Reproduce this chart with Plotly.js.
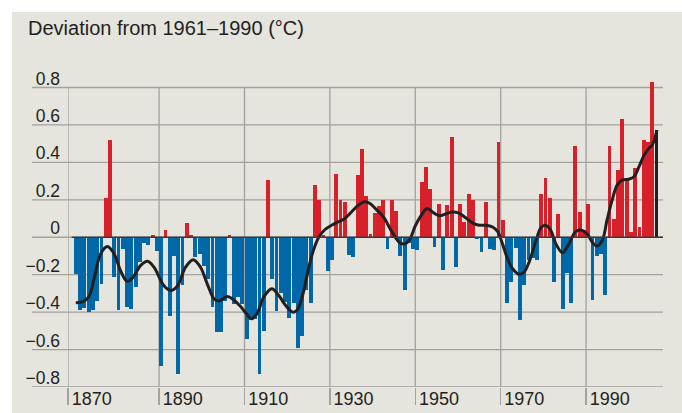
<!DOCTYPE html>
<html><head><meta charset="utf-8">
<script src="https://cdn.plot.ly/plotly-3.0.1.min.js"></script>
<style>
html,body{margin:0;padding:0;background:#ffffff;}
#chart{position:absolute;left:12px;top:12px;width:670px;height:401px;}
</style></head><body><div id="chart"></div>
<script>
// Annual deviation from the 1961–1990 mean (°C), 1870 onward
const firstYear = 1870;
const anomalies = [
 -0.195,-0.39,-0.38,-0.40,-0.39,-0.34,-0.25,0.21,0.52,-0.21,      // 1870-1879
 -0.39,-0.065,-0.37,-0.385,-0.265,-0.13,-0.03,-0.04,0.01,-0.075,   // 1880-1889
 -0.69,0.04,-0.42,-0.10,-0.73,-0.255,0.075,0.01,-0.105,-0.09,      // 1890-1899
 -0.155,-0.225,-0.37,-0.505,-0.505,-0.34,0.01,-0.355,-0.32,-0.355, // 1900-1909
 -0.545,-0.44,-0.435,-0.73,-0.50,0.305,-0.225,-0.395,-0.30,-0.345, // 1910-1919
 -0.43,-0.35,-0.59,-0.525,-0.28,-0.35,0.28,0.20,0.01,-0.18,        // 1920-1929
 -0.12,0.34,0.20,0.19,-0.095,-0.105,0.33,0.47,0.22,0.02,           // 1930-1939
 0.13,0.165,0.20,-0.065,0.20,0.14,-0.10,-0.28,-0.03,-0.065,        // 1940-1949
 -0.07,0.295,0.375,0.257,-0.052,0.18,-0.175,0.17,0.536,-0.16,      // 1950-1959
 0.177,0.08,0.23,0.20,-0.012,-0.08,0.19,-0.065,-0.07,0.51,         // 1960-1969
 0.09,-0.35,-0.24,-0.06,-0.44,-0.255,-0.12,-0.11,-0.12,0.23,       // 1970-1979
 0.316,0.21,-0.24,0.122,-0.385,-0.19,-0.35,0.49,0.134,0.04,        // 1980-1989
 0.18,-0.335,-0.10,-0.09,-0.31,0.49,0.10,0.36,0.63,0.305,          // 1990-1999
 0.03,0.37,0.053,0.52,0.51,0.83,0.573                              // 2000-2006
];
const years = anomalies.map((_, i) => firstYear + i);

// Smoothed curve
const smoothYears = [1870,1871.5,1873,1874.3,1875.8,1877.4,1879,1880.5,1882,1883.2,1885.2,1886.8,1888.3,1890.6,1892.2,1893.8,1895.7,1897.5,1899.2,1900.8,1902.4,1903.5,1905.5,1907,1908.6,1910,1911.1,1912.4,1914,1915.9,1917.5,1919,1920.8,1921.8,1923,1924.2,1925.5,1926.9,1928.3,1929.9,1931.4,1933,1934.6,1936.1,1937.7,1938.9,1940.5,1942,1943.6,1944.8,1945.9,1947,1948.3,1949.4,1950.7,1952.3,1953.8,1955.2,1956.7,1958.2,1959.6,1961.3,1962.9,1964.5,1966,1967.6,1968.8,1969.9,1971.1,1972.3,1973.9,1975,1976.2,1977.8,1978.9,1980,1981.2,1982.4,1984,1985.5,1987,1988.2,1989.8,1990.9,1992,1993.3,1994.4,1995.6,1996.8,1998,1999.5,2000.7,2001.9,2003,2004.2,2005,2006.1];
const smoothValues = [-0.35,-0.345,-0.32,-0.22,-0.09,-0.05,-0.09,-0.18,-0.235,-0.22,-0.15,-0.128,-0.16,-0.258,-0.284,-0.26,-0.16,-0.12,-0.16,-0.25,-0.33,-0.34,-0.316,-0.335,-0.37,-0.41,-0.435,-0.41,-0.32,-0.275,-0.31,-0.36,-0.40,-0.39,-0.32,-0.20,-0.08,0.0,0.04,0.064,0.082,0.10,0.136,0.17,0.19,0.18,0.145,0.11,0.046,0.0,-0.03,-0.036,-0.007,0.055,0.11,0.153,0.13,0.115,0.125,0.135,0.13,0.104,0.077,0.064,0.064,0.055,0.03,-0.034,-0.114,-0.168,-0.198,-0.186,-0.13,-0.016,0.05,0.064,0.038,-0.034,-0.083,-0.034,0.029,0.039,0.016,-0.025,-0.047,-0.016,0.091,0.198,0.28,0.305,0.31,0.323,0.377,0.434,0.475,0.493,0.573];

const xTickYears  = [1870, 1890, 1910, 1930, 1950, 1970, 1990];
const xTickLabels = ['1870','1890','1910','1930','1950','1970','1990'];
const yTickValues = [-0.8,-0.6,-0.4,-0.2,0,0.2,0.4,0.6,0.8];
const yTickLabels = ['\u22120.8','\u22120.6','\u22120.4','\u22120.2','0','0.2','0.4','0.6','0.8'];
const titleText = 'Deviation from 1961\u20131990 (\u00b0C)';

const RED = '#d8202a', BLUE = '#0067a8', BLACK = '#231f20';
const GRID = '#a2a2a0', BG = '#e5e4dd';
const FONT = 'Liberation Sans, Arial, Helvetica, sans-serif';

const plotW = 595, pxPerYear = 4.27;
const xMin = 1868.17, xMax = xMin + plotW / pxPerYear;
const yLow = yTickValues[0], yHigh = yTickValues[yTickValues.length - 1];

const barColors = anomalies.map((v, i) => i === anomalies.length - 1 ? BLACK : (v >= 0 ? RED : BLUE));
const xTickPos = xTickYears.map((y, i) => i === 0 ? xMin : y - 0.5);

// horizontal grid lines (extend left under the labels)
const shapes = yTickValues.map(t => ({
  type: 'line', xref: 'paper', yref: 'y', x0: -36 / plotW, x1: 1, y0: t, y1: t,
  line: {color: GRID, width: 1.3}, layer: 'below'
}));
// vertical grid lines, from the bottom to the top grid line
xTickPos.forEach(p => shapes.push({
  type: 'line', xref: 'x', yref: 'y', x0: p, x1: p, y0: yLow, y1: yHigh,
  line: {color: GRID, width: 1.3}, layer: 'below'
}));
// dark zero line
shapes.push({type: 'line', xref: 'x', yref: 'y', x0: years[0] - 0.95, x1: xMax, y0: 0, y1: 0,
  line: {color: '#3a3a3a', width: 1.6}, layer: 'above'});

const data = [
  {type: 'bar', x: years, y: anomalies, width: 0.9, marker: {color: barColors, line: {width: 0}},
   hoverinfo: 'x+y'},
  {type: 'scatter', mode: 'lines', x: smoothYears, y: smoothValues,
   line: {color: BLACK, width: 3, shape: 'spline', smoothing: 1}, hoverinfo: 'skip'}
];

const layout = {
  width: 670, height: 401,
  margin: {l: 56, r: 19, t: 67.5, b: 26, pad: 0},
  paper_bgcolor: BG, plot_bgcolor: 'rgba(0,0,0,0)',
  showlegend: false,
  font: {family: FONT, color: BLACK},
  title: {text: titleText, xref: 'container', x: 16 / 670, xanchor: 'left',
          yref: 'container', y: 1 - 16 / 401, yanchor: 'middle',
          font: {family: FONT, size: 20, color: BLACK}},
  xaxis: {range: [xMin, xMax], tickmode: 'array', tickvals: xTickPos, ticktext: xTickLabels,
          showgrid: false, zeroline: false, showline: false,
          ticks: 'outside', ticklen: 17, tickwidth: 1.3, tickcolor: GRID,
          ticklabelposition: 'outside right', ticklabelstandoff: -5, ticklabelshift: 3,
          tickfont: {size: 18, color: BLACK}, fixedrange: true},
  yaxis: {range: [yLow, 0.84], tickmode: 'array', tickvals: yTickValues, ticktext: yTickLabels,
          showgrid: false, zeroline: false, showline: false,
          ticks: '', ticklabelstandoff: 7, ticklabelshift: -9, tickfont: {size: 17.5, color: BLACK},
          fixedrange: true},
  shapes: shapes,
  bargap: 0
};

Plotly.newPlot('chart', data, layout, {displayModeBar: false, staticPlot: true});
</script></body></html>
